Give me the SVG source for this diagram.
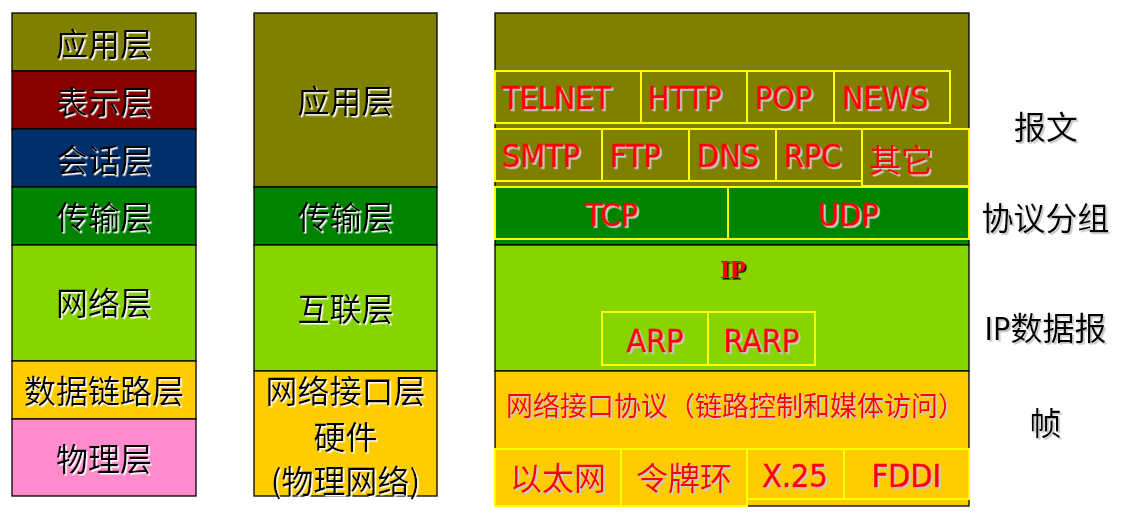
<svg xmlns="http://www.w3.org/2000/svg" width="1126" height="526" viewBox="0 0 1126 526">
<defs>
<filter id="shw" x="-10%" y="-20%" width="130%" height="150%"><feDropShadow dx="1.5" dy="1.5" stdDeviation="0.4" flood-color="#ffffff" flood-opacity="1"/></filter>
<filter id="shg" x="-10%" y="-20%" width="130%" height="150%"><feDropShadow dx="1.8" dy="1.8" stdDeviation="0.4" flood-color="#c8c8c8" flood-opacity="1"/></filter>
<filter id="shk" x="-10%" y="-20%" width="130%" height="150%"><feDropShadow dx="1.5" dy="1.5" stdDeviation="0.3" flood-color="#000000" flood-opacity="1"/></filter>
<style>
.blk{stroke:#000;stroke-width:1.3}
.yb{fill:none;stroke:#ffff00;stroke-width:2}
.ol{fill:#808000}.dr{fill:#880000}.nv{fill:#002f6a}.gr{fill:#008400}.lg{fill:#88d400}.gd{fill:#ffcc00}.pk{fill:#ff8acc}
.cn{font-family:"Noto Sans CJK SC","Noto Sans",sans-serif;font-size:32px;fill:#000;text-anchor:middle;filter:url(#shw)}
.lab{font-family:"Noto Sans CJK SC","Noto Sans",sans-serif;font-size:32px;fill:#000;text-anchor:middle;filter:url(#shg)}
.lat{font-family:"DejaVu Sans Condensed","DejaVu Sans",sans-serif;font-stretch:condensed}
.rd{font-size:32px;fill:#ff0000;stroke:#ff0000;stroke-width:0.7;filter:url(#shg)}
.rc{font-family:"Noto Sans CJK SC",sans-serif;font-size:32px;fill:#ff0000;filter:url(#shg)}
.mid{text-anchor:middle}
</style>
</defs>
<rect width="1126" height="526" fill="#ffffff"/>

<!-- OSI column -->
<g id="osi">
<g id="osi-app"><rect x="12" y="13" width="184" height="58" class="ol blk"/><text x="104" y="56" class="cn">应用层</text></g>
<g id="osi-pres"><rect x="12" y="71" width="184" height="58" class="dr blk"/><text x="104" y="114" class="cn">表示层</text></g>
<g id="osi-sess"><rect x="12" y="129" width="184" height="58" class="nv blk"/><text x="104" y="172" class="cn">会话层</text></g>
<g id="osi-trans"><rect x="12" y="187" width="184" height="58" class="gr blk"/><text x="104" y="229" class="cn">传输层</text></g>
<g id="osi-net"><rect x="12" y="245" width="184" height="116" class="lg blk"/><text x="104" y="315" class="cn">网络层</text></g>
<g id="osi-link"><rect x="12" y="361" width="184" height="58" class="gd blk"/><text x="104" y="403" class="cn">数据链路层</text></g>
<g id="osi-phys"><rect x="12" y="419" width="184" height="77" class="pk blk"/><text x="104" y="471" class="cn">物理层</text></g>
</g>

<!-- TCP/IP column -->
<g id="tcpip">
<g id="tcp-app"><rect x="254" y="13" width="183" height="174" class="ol blk"/><text x="345.5" y="113" class="cn">应用层</text></g>
<g id="tcp-trans"><rect x="254" y="187" width="183" height="58" class="gr blk"/><text x="345.5" y="229" class="cn">传输层</text></g>
<g id="tcp-inet"><rect x="254" y="245" width="183" height="126" class="lg blk"/><text x="345.5" y="321" class="cn">互联层</text></g>
<g id="tcp-if"><rect x="254" y="371" width="183" height="125" class="gd blk"/>
<text x="345.5" y="403" class="cn">网络接口层</text>
<text x="345.5" y="449" class="cn">硬件</text>
<text x="345.5" y="493" class="cn">(物理网络)</text></g>
</g>

<!-- Protocol column -->
<g id="protocols">
<g id="band-app"><rect x="495" y="13" width="474" height="174" class="ol blk"/></g>
<g id="band-trans"><rect x="495" y="187" width="474" height="58" class="gr blk"/></g>
<g id="band-ip"><rect x="495" y="245" width="474" height="126" class="lg blk"/></g>
<g id="band-if"><rect x="495" y="371" width="474" height="135" class="gd blk"/></g>

<g id="telnet"><rect x="495" y="71" width="146" height="52" class="yb"/><text x="502" y="109" class="lat rd">TELNET</text></g>
<g id="http"><rect x="641" y="71" width="106" height="52" class="yb"/><text x="648" y="109" class="lat rd">HTTP</text></g>
<g id="pop"><rect x="747" y="71" width="87" height="52" class="yb"/><text x="755" y="109" class="lat rd">POP</text></g>
<g id="news"><rect x="834" y="71" width="116" height="52" class="yb"/><text x="842" y="109" class="lat rd">NEWS</text></g>

<g id="smtp"><rect x="495" y="129" width="107" height="52" class="yb"/><text x="502" y="167" class="lat rd">SMTP</text></g>
<g id="ftp"><rect x="602" y="129" width="87" height="52" class="yb"/><text x="610" y="167" class="lat rd">FTP</text></g>
<g id="dns"><rect x="689" y="129" width="87" height="52" class="yb"/><text x="697" y="167" class="lat rd">DNS</text></g>
<g id="rpc"><rect x="776" y="129" width="86" height="52" class="yb"/><text x="784" y="167" class="lat rd">RPC</text></g>
<g id="other"><rect x="862" y="129" width="107" height="57" class="yb"/><text x="869" y="172" class="rc">其它</text></g>

<g id="tcp"><rect x="495" y="187" width="233" height="52" class="yb"/><text x="611.5" y="226" class="lat rd mid">TCP</text></g>
<g id="udp"><rect x="728" y="187" width="241" height="52" class="yb"/><text x="848.5" y="226" class="lat rd mid">UDP</text></g>

<g id="ip"><text x="733" y="278" font-family="Liberation Serif,serif" font-weight="bold" font-size="26" fill="#ff0000" text-anchor="middle" filter="url(#shk)">IP</text></g>
<g id="arp"><rect x="602" y="312" width="106" height="53" class="yb"/><text x="655" y="352" class="lat rd mid">ARP</text></g>
<g id="rarp"><rect x="708" y="312" width="107" height="53" class="yb"/><text x="761.5" y="352" class="lat rd mid">RARP</text></g>

<g id="ifproto"><text x="506" y="416" font-family="Noto Sans CJK SC,sans-serif" font-size="27" fill="#ff0000" filter="url(#shg)">网络接口协议（链路控制和媒体访问）</text></g>

<g id="ethernet"><rect x="495" y="449" width="126" height="57" class="yb"/><text x="558" y="490" class="rc mid">以太网</text></g>
<g id="tokenring"><rect x="621" y="449" width="126" height="57" class="yb"/><text x="684" y="490" class="rc mid">令牌环</text></g>
<g id="x25"><rect x="747" y="449" width="97" height="50" class="yb"/><text x="795" y="487" class="lat rd mid">X.25</text></g>
<g id="fddi"><rect x="844" y="449" width="125" height="50" class="yb"/><text x="906.5" y="487" class="lat rd mid">FDDI</text></g>
</g>

<!-- Unit labels -->
<g id="labels">
<g id="lbl-msg"><text x="1046" y="139" class="lab">报文</text></g>
<g id="lbl-seg"><text x="1045.5" y="230" class="lab">协议分组</text></g>
<g id="lbl-dgram"><text x="1045.5" y="340" class="lab"><tspan class="lat">IP</tspan>数据报</text></g>
<g id="lbl-frame"><text x="1045.5" y="435" class="lab">帧</text></g>
</g>
</svg>
